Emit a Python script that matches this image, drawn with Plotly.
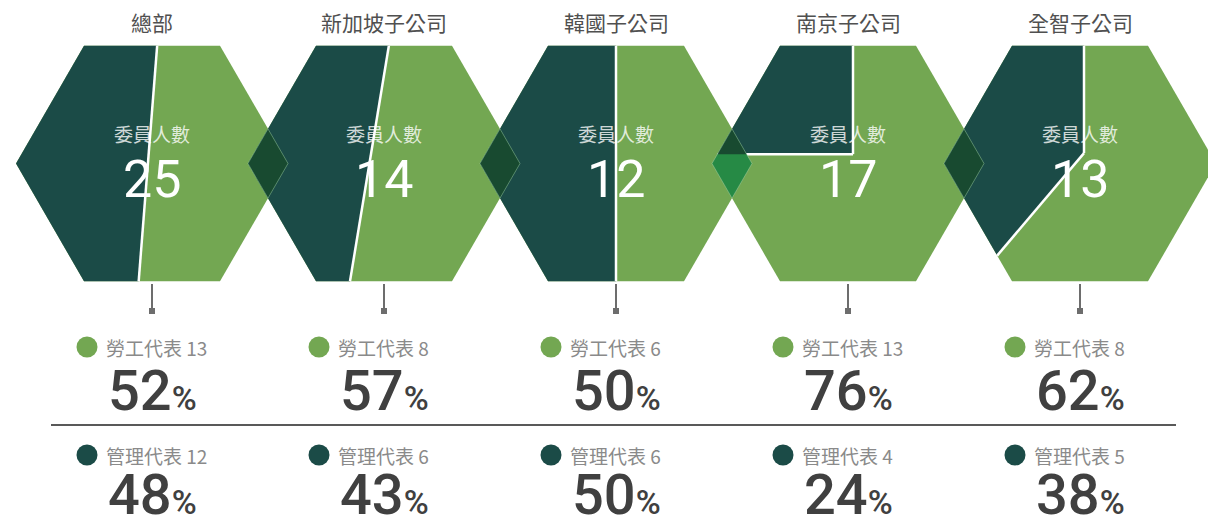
import math
import plotly.graph_objects as go

# ---------------- data ----------------
companies = ["總部", "新加坡子公司", "韓國子公司", "南京子公司", "全智子公司"]
labor_reps = [13, 8, 6, 13, 8]
mgmt_reps = [12, 6, 6, 4, 5]
totals = [l + m for l, m in zip(labor_reps, mgmt_reps)]
labor_label = "勞工代表"
mgmt_label = "管理代表"
center_label = "委員人數"

# ---------------- style ----------------
W, H = 1208, 523
R = 136.0            # hexagon radius (px)
CX0, STEP = 152.0, 232.0
CY = 163.5
DARK = "#1b4b47"
LIGHT = "#73a752"
OV_DARK = "#184a30"
OV_LIGHT = "#268a45"
# shape of the dividing line per hexagon (position solved from the share)
split_styles = [("tilt", 0.0785), ("tilt", 0.165), ("tilt", 0.0),
                ("corner", 5.0), ("bend", (4.0, 0.847))]
CJK = "Noto Sans CJK TC"
NUM = "Roboto"

centers = [CX0 + i * STEP for i in range(len(companies))]


def clip(poly, hp):
    a, b, c = hp
    out = []
    n = len(poly)
    for i in range(n):
        p, q = poly[i], poly[(i + 1) % n]
        fp = a * p[0] + b * p[1] + c
        fq = a * q[0] + b * q[1] + c
        if fp <= 0:
            out.append(p)
        if (fp < 0 < fq) or (fq < 0 < fp):
            t = fp / (fp - fq)
            out.append((p[0] + t * (q[0] - p[0]), p[1] + t * (q[1] - p[1])))
    return out


def area(poly):
    s = 0.0
    for i in range(len(poly)):
        x1, y1 = poly[i]
        x2, y2 = poly[(i + 1) % len(poly)]
        s += x1 * y2 - x2 * y1
    return abs(s) / 2


def polygon_halfplanes(poly):
    hps = []
    n = len(poly)
    for i in range(n):
        (px, pv), (qx, qv) = poly[i], poly[(i + 1) % n]
        dx, dv = qx - px, qv - pv
        hps.append((dv, -dx, -(dv * px) + dx * pv))
    return hps


hex_local = [(R * math.cos(math.radians(60 * k)), R * math.sin(math.radians(60 * k)))
             for k in range(6)]
HEX_AREA = area(hex_local)


def dark_halfplanes(style, p):
    kind, par = style
    if kind == "tilt":
        return [(1.0, -par, -p)]
    if kind == "corner":
        return [(1.0, 0.0, -par), (0.0, -1.0, p)]
    s, k = par
    return [(1.0, 0.0, -s), (1.0, -k, -s + k * p)]


def dark_poly(style, p):
    poly = hex_local
    for hp in dark_halfplanes(style, p):
        poly = clip(poly, hp)
    return poly


def solve_split(style, frac):
    target = frac * HEX_AREA
    lo, hi = -R, R
    flo = area(dark_poly(style, lo)) - target
    for _ in range(80):
        mid = (lo + hi) / 2
        fm = area(dark_poly(style, mid)) - target
        if (fm > 0) == (flo > 0):
            lo, flo = mid, fm
        else:
            hi = mid
    return (lo + hi) / 2


def shift_hp(hp, cx):
    a, b, c = hp
    return (a, b, c - a * cx)


def to_xy(poly):
    xs = [p[0] for p in poly] + [poly[0][0]]
    ys = [CY - p[1] for p in poly] + [CY - poly[0][1]]
    return xs, ys


fig = go.Figure()


def add_poly(poly, color, line=None):
    if len(poly) < 3:
        return
    xs, ys = to_xy(poly)
    fig.add_trace(go.Scatter(
        x=xs, y=ys, mode="lines", fill="toself", fillcolor=color,
        line=line if line else dict(width=0), hoverinfo="skip", showlegend=False))


split_params = []
hex_globals = []
for i, cx in enumerate(centers):
    frac_dark = mgmt_reps[i] / totals[i]
    p = solve_split(split_styles[i], frac_dark)
    split_params.append(p)
    hg = [(cx + u, v) for u, v in hex_local]
    hex_globals.append(hg)
    add_poly(hg, LIGHT)
    dp = dark_poly(split_styles[i], p)
    add_poly([(cx + u, v) for u, v in dp], DARK)
    hps = polygon_halfplanes(hex_local)
    lx, ly = [], []
    for j in range(len(dp)):
        a_, b_ = dp[j], dp[(j + 1) % len(dp)]
        m = ((a_[0] + b_[0]) / 2, (a_[1] + b_[1]) / 2)
        if all(h[0] * m[0] + h[1] * m[1] + h[2] < -0.5 for h in hps):
            lx += [cx + a_[0], cx + b_[0], None]
            ly += [CY - a_[1], CY - b_[1], None]
    fig.add_trace(go.Scatter(x=lx, y=ly, mode="lines",
                             line=dict(color="white", width=2.5),
                             hoverinfo="skip", showlegend=False))

# overlaps between neighbouring hexagons
for i in range(len(centers) - 1):
    D = hex_globals[i + 1]
    for hp in polygon_halfplanes(hex_globals[i]):
        D = clip(D, hp)
    add_poly(D, OV_LIGHT)
    Dd = D
    for hp in dark_halfplanes(split_styles[i + 1], split_params[i + 1]):
        Dd = clip(Dd, shift_hp(hp, centers[i + 1]))
    add_poly(Dd, OV_DARK)
    xs, ys = to_xy(D)
    fig.add_trace(go.Scatter(x=xs, y=ys, mode="lines",
                             line=dict(color="rgba(200,230,200,0.35)", width=1),
                             hoverinfo="skip", showlegend=False))

# pointer ticks
for cx in centers:
    fig.add_trace(go.Scatter(x=[cx, cx], y=[284, 311], mode="lines",
                             line=dict(color="#6d6d6d", width=2),
                             hoverinfo="skip", showlegend=False))
fig.add_trace(go.Scatter(x=centers, y=[311] * len(centers), mode="markers",
                         marker=dict(symbol="square", size=6, color="#6d6d6d"),
                         hoverinfo="skip", showlegend=False))

# legend dots
ROW1_LABEL, ROW1_PCT = 347, 391
ROW2_LABEL, ROW2_PCT = 455, 495
fig.add_trace(go.Scatter(x=[c - 65 for c in centers], y=[ROW1_LABEL] * len(centers),
                         mode="markers", marker=dict(size=21, color=LIGHT),
                         hoverinfo="skip", showlegend=False))
fig.add_trace(go.Scatter(x=[c - 65 for c in centers], y=[ROW2_LABEL] * len(centers),
                         mode="markers", marker=dict(size=21, color=DARK),
                         hoverinfo="skip", showlegend=False))

# divider line
fig.add_trace(go.Scatter(x=[51, 1176], y=[425, 425], mode="lines",
                         line=dict(color="#222222", width=1.5),
                         hoverinfo="skip", showlegend=False))

ann = []
for i, cx in enumerate(centers):
    ann.append(dict(x=cx, y=22, text=companies[i], showarrow=False,
                    font=dict(family=CJK, size=21, color="#505050")))
    ann.append(dict(x=cx, y=133, text=center_label, showarrow=False,
                    font=dict(family=CJK, size=19, color="rgba(255,255,255,0.8)")))
    ann.append(dict(x=cx, y=179, text=str(totals[i]), showarrow=False,
                    font=dict(family=NUM, size=52, color="white")))
    lp = round(100 * labor_reps[i] / totals[i])
    mp = round(100 * mgmt_reps[i] / totals[i])
    ann.append(dict(x=cx - 48, y=ROW1_LABEL, text=f"{labor_label} {labor_reps[i]}",
                    showarrow=False, xanchor="left",
                    font=dict(family=CJK, size=19, color="#8a8a8a")))
    ann.append(dict(x=cx - 48, y=ROW2_LABEL, text=f"{mgmt_label} {mgmt_reps[i]}",
                    showarrow=False, xanchor="left",
                    font=dict(family=CJK, size=19, color="#8a8a8a")))
    for val, yy in ((lp, ROW1_PCT), (mp, ROW2_PCT)):
        ann.append(dict(x=cx, y=yy,
                        text=f"{val}<span style='font-size:34px'>%</span>",
                        showarrow=False,
                        font=dict(family=NUM, size=56, color="#404040", weight=500)))

for a in ann:
    a.update(xref="x", yref="y")

fig.update_layout(
    width=W, height=H, margin=dict(l=0, r=0, t=0, b=0),
    paper_bgcolor="white", plot_bgcolor="white",
    xaxis=dict(range=[0, W], visible=False, fixedrange=True),
    yaxis=dict(range=[H, 0], visible=False, fixedrange=True),
    annotations=ann, showlegend=False,
)

fig.write_html("out.html", config={"displayModeBar": False},
               post_script="document.body.style.margin='0';")
